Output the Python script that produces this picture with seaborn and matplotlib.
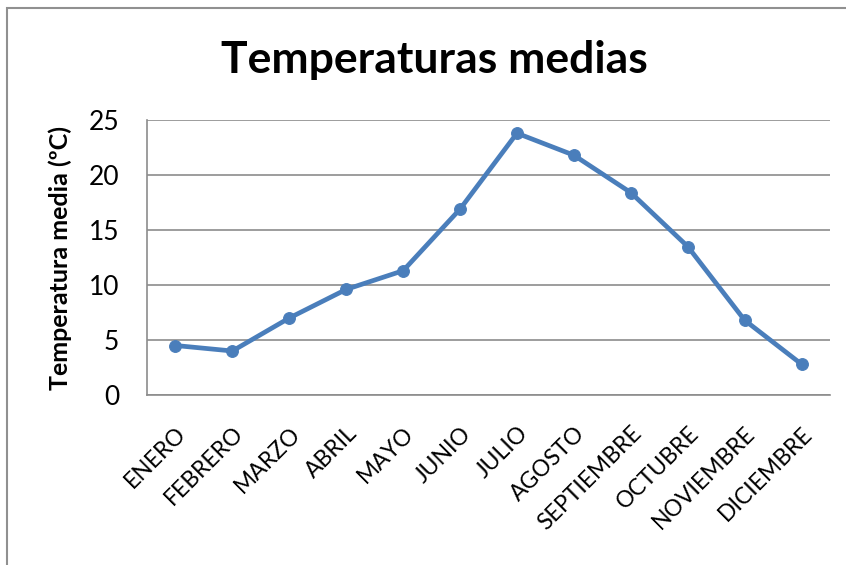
import matplotlib
matplotlib.use("Agg")
import matplotlib.pyplot as plt
import seaborn as sns
import pandas as pd
from matplotlib.patches import Rectangle

# datos
meses = ['ENERO', 'FEBRERO', 'MARZO', 'ABRIL', 'MAYO', 'JUNIO', 'JULIO',
         'AGOSTO', 'SEPTIEMBRE', 'OCTUBRE', 'NOVIEMBRE', 'DICIEMBRE']
temperaturas = [4.5, 4.0, 7.0, 9.6, 11.3, 16.9, 23.8, 21.8, 18.4, 13.5, 6.8, 2.8]
ticks_y = [0, 5, 10, 15, 20, 25]

df = pd.DataFrame({'Mes': meses, 'Temp': temperaturas})
df['pos'] = range(len(meses))

sns.set_style("white")
plt.rcParams['font.family'] = ['Lato', 'DejaVu Sans']
plt.rcParams['text.color'] = 'black'
plt.rcParams['xtick.color'] = 'black'
plt.rcParams['ytick.color'] = 'black'
plt.rcParams['axes.labelcolor'] = 'black'

fig = plt.figure(figsize=(8.46, 5.65), dpi=100)
ax = fig.add_axes([147 / 846, 1 - 395 / 565, (830 - 147) / 846, (395 - 120) / 565])

# borde del gráfico (cortado a la derecha y abajo como en la imagen)
fig.patches.append(Rectangle((7 / 846, -0.1), 1.2, 1 - 8 / 565 + 0.1,
                             transform=fig.transFigure, fill=False,
                             edgecolor='#909090', linewidth=1.5))

sns.lineplot(data=df, x='pos', y='Temp', ax=ax, color='#4a7ebb', linewidth=3.4,
             marker='o', markersize=8.5, markeredgecolor='#4a7ebb')

ax.set_xlim(-0.5, 11.5)
ax.set_ylim(0, 25)
ax.set_yticks(ticks_y)
ax.set_xticks(range(len(meses)))
ax.set_xticklabels(meses, rotation=45, ha='right', rotation_mode='anchor', fontsize=16.5)
ax.tick_params(axis='y', labelsize=19, length=0, pad=20)
ax.tick_params(axis='x', length=0, pad=20)
ax.grid(axis='y', color='#8c8c8c', linewidth=1.2)
ax.set_axisbelow(True)
ax.set_xlabel('')
ax.set_ylabel('Temperatura media (ºC)', fontsize=18, fontweight='bold', labelpad=12)

for lado in ['top', 'right']:
    ax.spines[lado].set_visible(False)
for lado in ['left', 'bottom']:
    ax.spines[lado].set_color('#8c8c8c')
    ax.spines[lado].set_linewidth(1.2)

fig.text(434 / 846, 1 - 60 / 565, 'Temperaturas medias', ha='center', va='center',
         fontsize=32, fontweight='bold')

fig.savefig('out.png', dpi=100)
